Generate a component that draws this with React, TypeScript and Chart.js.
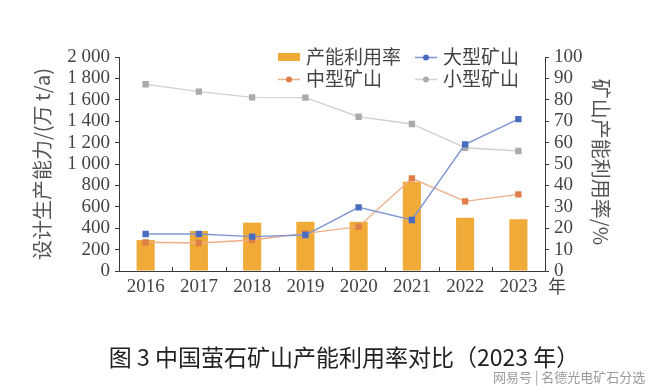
import React, { useEffect, useRef } from "react";
import { Chart, registerables } from "chart.js";

Chart.register(...registerables);

const years = ["2016", "2017", "2018", "2019", "2020", "2021", "2022", "2023"];
const utilization = [14.5, 18.7, 22.6, 23.0, 23.0, 41.7, 24.9, 24.2];
const largeMines = [346, 346, 321, 336, 595, 477, 1184, 1420];
const mediumMines = [268, 262, 290, 352, 414, 866, 651, 716];
const smallMines = [1745, 1676, 1623, 1620, 1442, 1374, 1152, 1121];

const leftTitle = "设计生产能力/(万 t/a)";
const rightTitle = "矿山产能利用率/%";
const figureTitle = "图 3 中国萤石矿山产能利用率对比（2023 年）";
const watermark = "网易号 | 名德光电矿石分选";

const BAR = "#F0AA38";
const BLUE_M = "#4A6CC0";
const BLUE_L = "#7D96D2";
const ORANGE_M = "#DE7F45";
const ORANGE_L = "#EEAE88";
const GREY_M = "#ABABAB";
const GREY_L = "#D2D2D2";
const AXIS = "#3A3A3A";
const TEXT = "#444444";
const CJK = '"Noto Sans CJK SC", "Noto Sans", sans-serif';
const SERIF = '"Liberation Serif", "DejaVu Serif", serif';

const fmtThousands = (v: number) => {
  const s = String(v);
  return s.length > 3 ? s.slice(0, -3) + " " + s.slice(-3) : s;
};

const decorPlugin = {
  id: "decor",
  afterDraw(chart: any) {
    const ctx = chart.ctx;
    const area = chart.chartArea;
    const xs = chart.scales.x;
    ctx.save();
    // inward tick marks between categories on x axis
    ctx.strokeStyle = AXIS;
    ctx.lineWidth = 1;
    for (let i = 0; i < years.length - 1; i++) {
      const x = Math.round((xs.getPixelForTick(i) + xs.getPixelForTick(i + 1)) / 2) + 0.5;
      ctx.beginPath();
      ctx.moveTo(x, area.bottom);
      ctx.lineTo(x, area.bottom - 4);
      ctx.stroke();
    }
    // axis titles
    ctx.fillStyle = "#555";
    ctx.font = `20px ${CJK}`;
    ctx.textAlign = "center";
    ctx.textBaseline = "middle";
    ctx.save();
    ctx.translate(42, 164);
    ctx.rotate(-Math.PI / 2);
    ctx.fillText(leftTitle, 0, 0);
    ctx.restore();
    ctx.save();
    ctx.translate(601, 162);
    ctx.rotate(Math.PI / 2);
    ctx.fillText(rightTitle, 0, 0);
    ctx.restore();
    // unit after x labels
    ctx.fillStyle = TEXT;
    ctx.font = `18px ${CJK}`;
    ctx.fillText("年", 557, 286);
    // legend
    const items = [
      { label: "产能利用率", type: "bar", color: BAR, line: BAR, x: 278, y: 57 },
      { label: "大型矿山", type: "line", color: BLUE_M, line: BLUE_L, x: 415, y: 57 },
      { label: "中型矿山", type: "line", color: ORANGE_M, line: ORANGE_L, x: 278, y: 79 },
      { label: "小型矿山", type: "line", color: GREY_M, line: GREY_L, x: 415, y: 79 },
    ];
    ctx.font = `19px ${CJK}`;
    ctx.textAlign = "left";
    for (const it of items) {
      if (it.type === "bar") {
        ctx.fillStyle = it.color;
        ctx.fillRect(it.x, it.y - 4, 22, 8);
      } else {
        ctx.strokeStyle = it.line;
        ctx.lineWidth = 1.5;
        ctx.beginPath();
        ctx.moveTo(it.x, it.y + 0.5);
        ctx.lineTo(it.x + 22, it.y + 0.5);
        ctx.stroke();
        ctx.fillStyle = it.color;
        ctx.beginPath();
        ctx.arc(it.x + 11, it.y + 0.5, 3, 0, Math.PI * 2);
        ctx.fill();
      }
      ctx.fillStyle = TEXT;
      ctx.fillText(it.label, it.x + 28, it.y);
    }
    ctx.restore();
  },
};

export default function App() {
  const canvasRef = useRef<HTMLCanvasElement | null>(null);

  useEffect(() => {
    document.body.style.margin = "0";
    const canvas = canvasRef.current;
    if (!canvas) return;
    const lineDs = (label: string, data: number[], marker: string, line: string, order: number) => ({
      type: "line" as const,
      label,
      data,
      yAxisID: "y",
      borderColor: line,
      borderWidth: 1.4,
      backgroundColor: marker,
      pointBackgroundColor: marker,
      pointBorderColor: marker,
      pointBorderWidth: 0,
      pointStyle: "rect" as const,
      pointRadius: 4.5,
      tension: 0,
      order,
    });
    const chart = new Chart(canvas, {
      type: "bar",
      data: {
        labels: years,
        datasets: [
          {
            type: "bar",
            label: "产能利用率",
            data: utilization,
            yAxisID: "y1",
            backgroundColor: BAR,
            borderWidth: 0,
            barPercentage: 0.34,
            categoryPercentage: 1,
            order: 10,
          } as any,
          lineDs("小型矿山", smallMines, GREY_M, GREY_L, 4),
          lineDs("中型矿山", mediumMines, ORANGE_M, ORANGE_L, 3),
          lineDs("大型矿山", largeMines, BLUE_M, BLUE_L, 2),
        ],
      },
      options: {
        responsive: false,
        animation: false,
        layout: { padding: { top: 57, left: 0, right: 0, bottom: 0 } },
        plugins: { legend: { display: false }, tooltip: { enabled: false }, title: { display: false } },
        scales: {
          x: {
            offset: true,
            grid: { display: false },
            border: { display: true, color: AXIS, width: 1 },
            ticks: { color: TEXT, font: { family: SERIF, size: 19 }, padding: -3, maxRotation: 0, autoSkip: false },
            afterFit: (s: any) => {
              s.height = 117;
            },
          },
          y: {
            position: "left",
            min: 0,
            max: 2000,
            ticks: {
              stepSize: 200,
              autoSkip: false,
              color: TEXT,
              font: { family: SERIF, size: 19 },
              padding: 5,
              callback: (v: any) => fmtThousands(Number(v)),
            },
            grid: { drawOnChartArea: false, drawTicks: true, tickLength: 4, color: AXIS },
            border: { display: true, color: AXIS, width: 1 },
            afterFit: (s: any) => {
              s.width = 119;
            },
          },
          y1: {
            position: "right",
            min: 0,
            max: 100,
            ticks: {
              stepSize: 10,
              autoSkip: false,
              color: TEXT,
              font: { family: SERIF, size: 19 },
              padding: 5,
            },
            grid: { drawOnChartArea: false, drawTicks: true, tickLength: 4, color: AXIS },
            border: { display: true, color: AXIS, width: 1 },
            afterFit: (s: any) => {
              s.width = 115;
            },
          },
        },
      } as any,
      plugins: [decorPlugin],
    });
    return () => chart.destroy();
  }, []);

  return (
    <div style={{ position: "relative", width: 660, height: 388, background: "#fff", overflow: "hidden" }}>
      <canvas ref={canvasRef} width={660} height={388} style={{ position: "absolute", left: 0, top: 0 }} />
      <div
        style={{
          position: "absolute",
          left: 0,
          width: 688,
          top: 341,
          textAlign: "center",
          fontFamily: CJK,
          fontSize: 23,
          lineHeight: "30px",
          color: "#222",
          whiteSpace: "nowrap",
        }}
      >
        {figureTitle}
      </div>
      <div
        style={{
          position: "absolute",
          left: 493,
          top: 368,
          fontFamily: CJK,
          fontSize: 13,
          lineHeight: "18px",
          color: "#9a9a9a",
          whiteSpace: "nowrap",
        }}
      >
        {watermark}
      </div>
    </div>
  );
}
